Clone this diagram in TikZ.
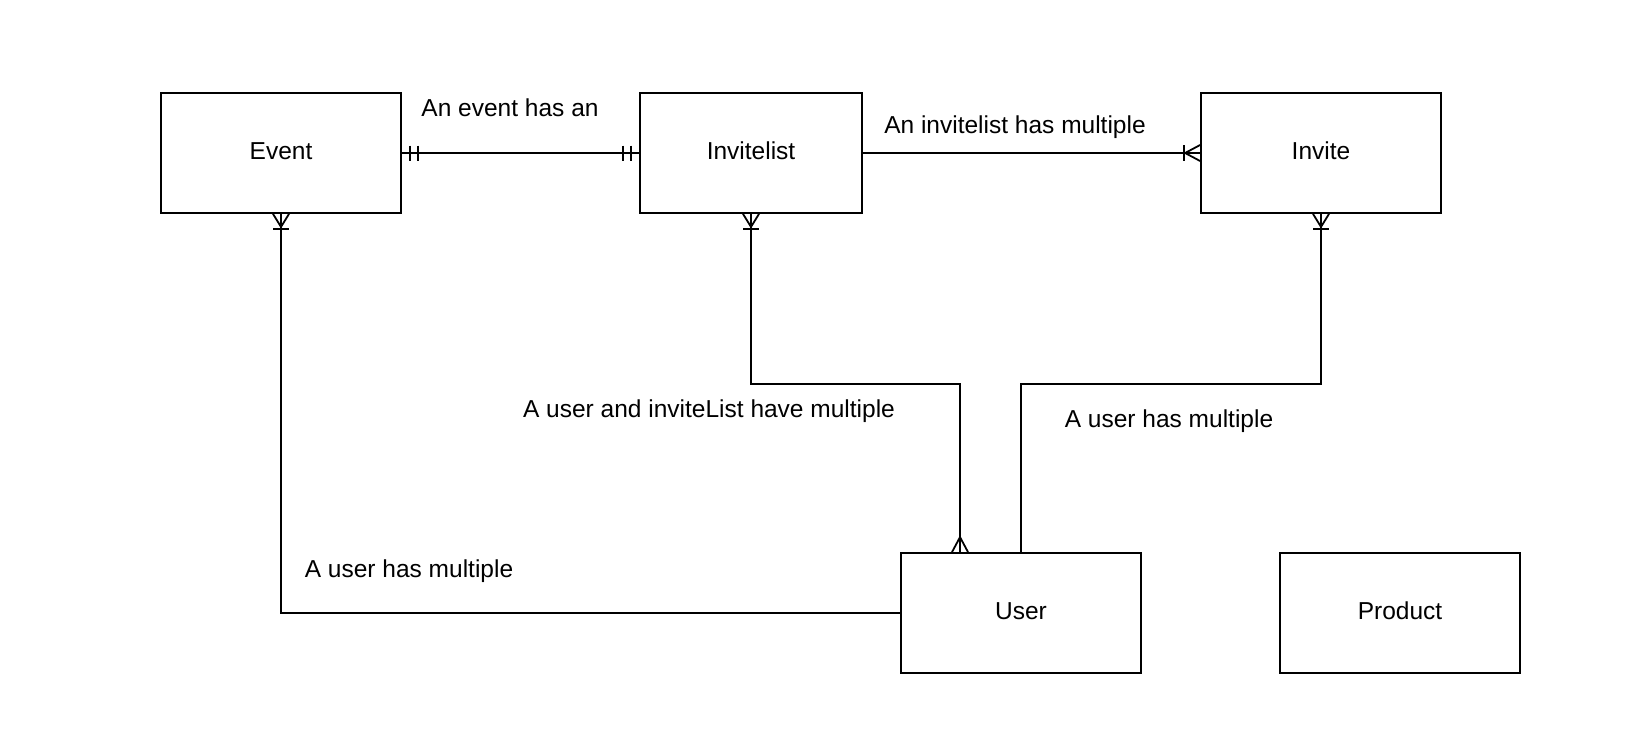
\documentclass[tikz,border=0pt]{standalone}
\usepackage{fontspec}
\setmainfont{Liberation Sans}
\usetikzlibrary{calc}
\begin{document}
\begin{tikzpicture}[x=1pt,y=-1pt,
  entity/.style={draw,line width=1.8pt,minimum width=240pt,minimum height=120pt,inner sep=0pt,text depth=4pt,font=\fontsize{24.5}{28}\selectfont},
  conn/.style={line width=1.8pt},
  lbl/.style={inner sep=0pt,font=\fontsize{24.5}{28}\selectfont}]
\useasboundingbox (0,0) rectangle (1635,742);
\node[entity] (event) at (281,153) {Event};
\node[entity,minimum width=222pt] (invitelist) at (751,153) {Invitelist};
\node[entity] (invite) at (1321,153) {Invite};
\node[entity] (user) at (1021,613) {User};
\node[entity] (product) at (1400,613) {Product};
% connectors
\draw[conn] (event.east) -- (invitelist.west);
\draw[conn] (invitelist.east) -- (invite.west);
\draw[conn] (event.south) |- (user.west);
\coordinate (ua) at ($(user.north)+(-61,0)$);
\draw[conn] (invitelist.south) -- ++(0,170) -| (ua);
\draw[conn] (invite.south) -- ++(0,170) -| (user.north);
% markers: mandatory one (double bars)
\draw[conn] ($(event.east)+(8,-7.5)$) -- ++(0,15);
\draw[conn] ($(event.east)+(16,-7.5)$) -- ++(0,15);
\draw[conn] ($(invitelist.west)+(-8,-7.5)$) -- ++(0,15);
\draw[conn] ($(invitelist.west)+(-16,-7.5)$) -- ++(0,15);
% one-to-many at invite west
\draw[conn] ($(invite.west)+(-16,-8)$) -- ++(0,16);
\draw[conn] ($(invite.west)+(0,-8)$) -- ($(invite.west)+(-15,0)$) -- ($(invite.west)+(0,8)$);
% one-to-many at bottoms
\foreach \n in {event,invitelist,invite}{
  \draw[conn] ($(\n.south)+(-8,15)$) -- ++(16,0);
  \draw[conn] ($(\n.south)+(-8,0)$) -- ($(\n.south)+(0,13)$) -- ($(\n.south)+(8,0)$);
}
% many at user top
\draw[conn] ($(ua)+(-8,0)$) -- ($(ua)+(0,-15)$) -- ($(ua)+(8,0)$);
% labels
\node[lbl] (l1) at (510,108) {An event has an};
\node[lbl] (l2) at (1015,127) {An invitelist has multiple};
\node[lbl] (l3) at (709,411) {A user and inviteList have multiple};
\node[lbl] (l4) at (1169,421) {A user has multiple};
\node[lbl] (l5) at (409,571) {A user has multiple};
\end{tikzpicture}
\end{document}
